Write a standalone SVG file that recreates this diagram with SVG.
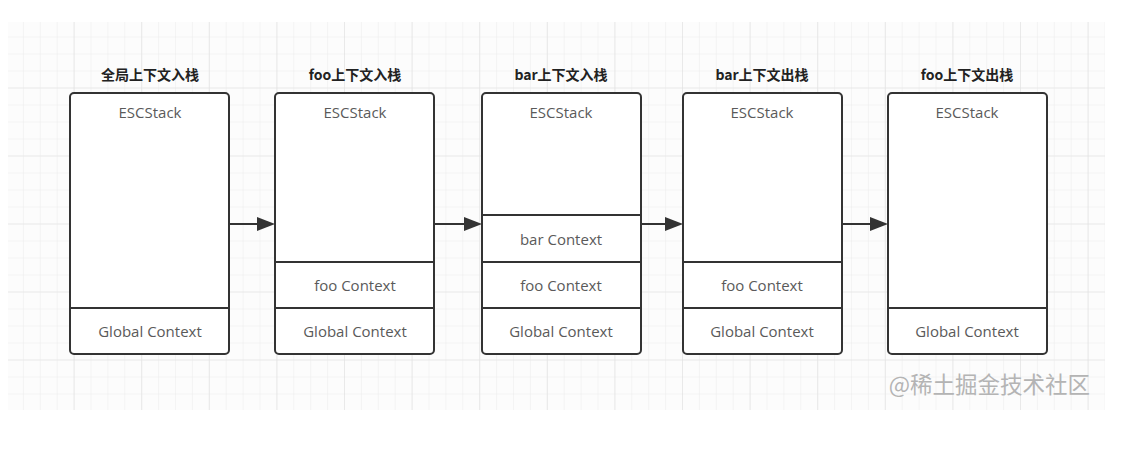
<svg xmlns="http://www.w3.org/2000/svg" width="1133" height="453" viewBox="0 0 1133 453">
<defs>
<pattern id="g" x="6" y="19.5" width="16.9" height="17" patternUnits="userSpaceOnUse">
<path d="M0 0H16.9M0 0V17" fill="none" stroke="#ebebeb" stroke-width="1"/>
</pattern>
<pattern id="G" x="6" y="19.5" width="67.6" height="68" patternUnits="userSpaceOnUse">
<path d="M0 0H67.6M0 0V68" fill="none" stroke="#e2e2e2" stroke-width="1.2"/>
</pattern>
</defs>
<style>
.box{fill:#fff;stroke:#333;stroke-width:2}
.sep{stroke:#333;stroke-width:2}
.t{font-family:"Open Sans","Noto Sans","Liberation Sans",sans-serif;font-size:15px;fill:#5a5a5a;text-anchor:middle}
.h{font-family:"Noto Sans CJK SC","Noto Sans",sans-serif;font-size:14px;font-weight:bold;fill:#222;text-anchor:middle}
.c{stroke:#333;stroke-width:2;fill:none}
.a{fill:#333}
</style>
<rect width="1133" height="453" fill="#fff"/>
<rect x="8" y="22" width="1097" height="388" fill="#fcfcfc"/>
<rect x="8" y="22" width="1097" height="388" fill="url(#g)"/>
<rect x="8" y="22" width="1097" height="388" fill="url(#G)"/>

<g id="n1">
<text class="h" x="150" y="80">全局上下文入栈</text>
<rect class="box" x="70" y="93" width="159" height="261" rx="4"/>
<line class="sep" x1="70" y1="308" x2="229" y2="308"/>
<text class="t" x="150" y="118">ESCStack</text>
<text class="t" x="150" y="337">Global Context</text>
</g>
<g id="n2">
<text class="h" x="355" y="80">foo上下文入栈</text>
<rect class="box" x="275" y="93" width="159" height="261" rx="4"/>
<line class="sep" x1="275" y1="262" x2="434" y2="262"/>
<line class="sep" x1="275" y1="308" x2="434" y2="308"/>
<text class="t" x="355" y="118">ESCStack</text>
<text class="t" x="355" y="291">foo Context</text>
<text class="t" x="355" y="337">Global Context</text>
</g>
<g id="n3">
<text class="h" x="561" y="80">bar上下文入栈</text>
<rect class="box" x="482" y="93" width="159" height="261" rx="4"/>
<line class="sep" x1="482" y1="215" x2="641" y2="215"/>
<line class="sep" x1="482" y1="262" x2="641" y2="262"/>
<line class="sep" x1="482" y1="308" x2="641" y2="308"/>
<text class="t" x="561" y="118">ESCStack</text>
<text class="t" x="561" y="245">bar Context</text>
<text class="t" x="561" y="291">foo Context</text>
<text class="t" x="561" y="337">Global Context</text>
</g>
<g id="n4">
<text class="h" x="762" y="80">bar上下文出栈</text>
<rect class="box" x="683" y="93" width="159" height="261" rx="4"/>
<line class="sep" x1="683" y1="262" x2="842" y2="262"/>
<line class="sep" x1="683" y1="308" x2="842" y2="308"/>
<text class="t" x="762" y="118">ESCStack</text>
<text class="t" x="762" y="291">foo Context</text>
<text class="t" x="762" y="337">Global Context</text>
</g>
<g id="n5">
<text class="h" x="967" y="80">foo上下文出栈</text>
<rect class="box" x="888" y="93" width="159" height="261" rx="4"/>
<line class="sep" x1="888" y1="308" x2="1047" y2="308"/>
<text class="t" x="967" y="118">ESCStack</text>
<text class="t" x="967" y="337">Global Context</text>
</g>

<g id="connectors">
<path class="c" d="M229 224H258"/><path class="a" d="M257 217L275 224L257 231Z"/>
<path class="c" d="M434 224H465"/><path class="a" d="M464 217L482 224L464 231Z"/>
<path class="c" d="M641 224H666"/><path class="a" d="M665 217L683 224L665 231Z"/>
<path class="c" d="M842 224H871"/><path class="a" d="M870 217L888 224L870 231Z"/>
</g>

<text x="1090" y="393" font-family="Noto Sans CJK SC,sans-serif" font-size="22.5" fill="#b4b4b4" text-anchor="end">@稀土掘金技术社区</text>
</svg>
